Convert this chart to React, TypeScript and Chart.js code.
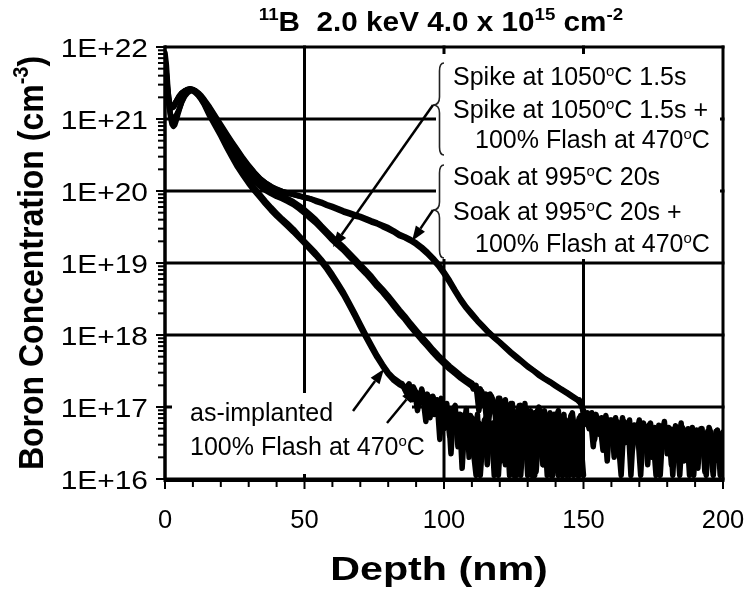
import React, { useEffect, useRef } from 'react';
import { Chart, registerables } from 'chart.js';

Chart.register(...registerables);

// ---------------- data ----------------
const depthSurface = [0, 0.5, 1, 1.5, 2, 2.5, 3, 3.5, 4, 4.5, 5, 6, 7, 8, 9, 10, 11, 12, 13, 14, 16, 18, 20, 22, 24, 26, 28, 30, 32, 34, 36, 38, 40, 42, 44, 46, 48, 50, 52, 54, 56, 58, 60, 62, 64, 66, 68, 70, 72, 74, 76, 78, 80, 82, 84];
const depthMidB = [86, 88, 90, 92, 94, 96, 98, 100, 102, 104, 106, 108, 110];
const depthMidC = [86, 88, 90, 92, 94, 96, 98, 100, 102, 104, 106, 108, 110, 112, 114, 116, 118, 120, 122, 124, 126, 128, 130, 132, 134, 136, 138, 140, 142, 144, 146, 148];

const depthNoiseA1 = [85, 86, 87, 88, 89, 90, 91, 92, 93, 94, 95, 96, 97, 98, 99, 100, 101, 102, 103, 104, 105, 106, 107, 108, 109, 110, 111, 112, 113, 114, 115, 116, 117, 118, 119, 120, 121, 122, 123, 124, 125, 126, 127, 128, 129, 130, 131, 132, 133, 134, 135, 136, 137, 138, 139, 140, 141, 142, 143, 144, 145, 146, 147, 148, 149, 150];
const depthNoiseA2 = [85.5, 86.5, 87.5, 88.5, 89.5, 90.5, 91.5, 92.5, 93.5, 94.5, 95.5, 96.5, 97.5, 98.5, 99.5, 100.5, 101.5, 102.5, 103.5, 104.5, 105.5, 106.5, 107.5, 108.5, 109.5, 110.5, 111.5, 112.5, 113.5, 114.5, 115.5, 116.5, 117.5, 118.5, 119.5, 120.5, 121.5, 122.5, 123.5, 124.5, 125.5, 126.5, 127.5, 128.5, 129.5, 130.5, 131.5, 132.5, 133.5, 134.5, 135.5, 136.5, 137.5, 138.5, 139.5, 140.5, 141.5, 142.5, 143.5, 144.5, 145.5, 146.5, 147.5, 148.5, 149.5];
const depthNoiseB1 = [111, 112, 113, 114, 115, 116, 117, 118, 119, 120, 121, 122, 123, 124, 125, 126, 127, 128, 129, 130, 131, 132, 133, 134, 135, 136, 137, 138, 139, 140, 141, 142, 143, 144, 145, 146, 147, 148, 149, 150];
const depthNoiseB2 = [110.5, 111.5, 112.5, 113.5, 114.5, 115.5, 116.5, 117.5, 118.5, 119.5, 120.5, 121.5, 122.5, 123.5, 124.5, 125.5, 126.5, 127.5, 128.5, 129.5, 130.5, 131.5, 132.5, 133.5, 134.5, 135.5, 136.5, 137.5, 138.5, 139.5, 140.5, 141.5, 142.5, 143.5, 144.5, 145.5, 146.5, 147.5, 148.5, 149.5];
const depthNoiseC1 = [149, 150, 151, 152, 153, 154, 155, 156, 157, 158, 159, 160, 161, 162, 163, 164, 165, 166, 167, 168, 169, 170, 171, 172, 173, 174, 175, 176, 177, 178, 179, 180, 181, 182, 183, 184, 185, 186, 187, 188, 189, 190, 191, 192, 193, 194, 195, 196, 197, 198, 199, 200];
const depthNoiseC2 = [148.5, 149.5, 150.5, 151.5, 152.5, 153.5, 154.5, 155.5, 156.5, 157.5, 158.5, 159.5, 160.5, 161.5, 162.5, 163.5, 164.5, 165.5, 166.5, 167.5, 168.5, 169.5, 170.5, 171.5, 172.5, 173.5, 174.5, 175.5, 176.5, 177.5, 178.5, 179.5, 180.5, 181.5, 182.5, 183.5, 184.5, 185.5, 186.5, 187.5, 188.5, 189.5, 190.5, 191.5, 192.5, 193.5, 194.5, 195.5, 196.5, 197.5, 198.5, 199.5];

// as-implanted
const concA1 = [8.3e21, 5.6e21, 2.8e21, 1.6e21, 1.05e21, 8.5e20, 7.9e20, 8.3e20, 9.5e20, 1.12e21, 1.3e21, 1.75e21, 2.1e21, 2.35e21, 2.5e21, 2.5e21, 2.35e21, 2.15e21, 1.9e21, 1.65e21, 1.2e21, 8.7e20, 6.3e20, 4.5e20, 3.2e20, 2.35e20, 1.8e20, 1.38e20, 1.1e20, 8.9e19, 7.2e19, 5.9e19, 4.9e19, 4.1e19, 3.5e19, 2.95e19, 2.4e19, 2.0e19, 1.66e19, 1.38e19, 1.12e19, 8.9e18, 6.9e18, 5.2e18, 3.9e18, 2.8e18, 2.0e18, 1.41e18, 1.0e18, 7.2e17, 5.2e17, 3.9e17, 3.0e17, 2.5e17, 2.2e17];
const noiseA1 = [2.1e17, 1.78e17, 2.0e17, 1.41e17, 1.9e17, 1.58e17, 1.12e17, 1.78e17, 1.26e17, 1.51e17, 7.1e16, 1.41e17, 1.12e17, 8.9e16, 1.32e17, 5.0e16, 1.12e17, 4.0e16, 8.9e16, 1.05e17, 2.8e16, 7.9e16, 5.0e16, 9.5e16, 2.0e16, 7.1e16, 3.55e16, 7.9e16, 1.12e16, 4.0e16, 7.1e16, 2.5e16, 5.6e16, 1.12e16, 3.2e16, 6.3e16, 4.0e16, 1.58e16, 5.0e16, 2.8e16, 1.12e16, 5.6e16, 3.2e16, 2.0e16, 5.2e16, 1.12e16, 3.55e16, 5.0e16, 1.26e16, 4.0e16, 2.5e16, 5.2e16, 1.12e16, 3.2e16, 4.8e16, 1.78e16, 1.12e16, 4.5e16, 2.8e16, 5.0e16, 1.12e16, 2.5e16, 4.5e16, 1.58e16, 3.55e16, 1.12e16];
// 100% flash at 470 C
const concA2 = [7.0e21, 4.2e21, 2.2e21, 1.45e21, 1.15e21, 1.05e21, 1.02e21, 1.05e21, 1.12e21, 1.22e21, 1.35e21, 1.7e21, 2.05e21, 2.3e21, 2.45e21, 2.45e21, 2.3e21, 2.1e21, 1.85e21, 1.6e21, 1.1e21, 8.0e20, 5.8e20, 4.1e20, 2.95e20, 2.15e20, 1.65e20, 1.27e20, 1.01e20, 8.2e19, 6.6e19, 5.4e19, 4.5e19, 3.8e19, 3.2e19, 2.7e19, 2.25e19, 1.88e19, 1.55e19, 1.28e19, 1.04e19, 8.2e18, 6.3e18, 4.8e18, 3.6e18, 2.6e18, 1.85e18, 1.3e18, 9.3e17, 6.7e17, 4.9e17, 3.7e17, 2.85e17, 2.35e17, 2.05e17];
const noiseA2 = [1.9e17, 1.58e17, 2.1e17, 1.26e17, 1.66e17, 8.9e16, 1.58e17, 1.32e17, 6.3e16, 1.41e17, 1.05e17, 7.9e16, 1.26e17, 3.55e16, 1.12e17, 7.1e16, 9.5e16, 2.24e16, 8.9e16, 5.6e16, 7.9e16, 1.41e16, 6.3e16, 3.55e16, 7.6e16, 2.5e16, 1.12e16, 6.0e16, 3.55e16, 6.6e16, 1.58e16, 4.5e16, 6.0e16, 2.24e16, 1.12e16, 5.0e16, 2.8e16, 5.6e16, 1.12e16, 4.0e16, 2.24e16, 5.0e16, 1.12e16, 4.2e16, 2.5e16, 4.8e16, 1.41e16, 1.12e16, 4.5e16, 3.2e16, 1.58e16, 4.2e16, 2.24e16, 1.12e16, 4.0e16, 2.8e16, 4.5e16, 1.12e16, 2.0e16, 4.0e16, 1.26e16, 3.8e16, 2.24e16, 1.12e16, 3.55e16];
// spike at 1050 C 1.5 s
const concB1 = [7.1e21, 4.2e21, 2.5e21, 1.78e21, 1.5e21, 1.45e21, 1.48e21, 1.58e21, 1.74e21, 1.9e21, 2.05e21, 2.3e21, 2.45e21, 2.57e21, 2.63e21, 2.57e21, 2.45e21, 2.24e21, 2.0e21, 1.78e21, 1.35e21, 1.0e21, 7.4e20, 5.5e20, 4.1e20, 3.1e20, 2.4e20, 1.9e20, 1.55e20, 1.29e20, 1.12e20, 1.0e20, 9.1e19, 8.5e19, 7.8e19, 7.1e19, 6.3e19, 5.5e19, 4.7e19, 4.0e19, 3.3e19, 2.75e19, 2.3e19, 1.95e19, 1.66e19, 1.38e19, 1.15e19, 9.5e18, 7.9e18, 6.5e18, 5.2e18, 4.3e18, 3.5e18, 2.8e18, 2.24e18, 1.82e18, 1.45e18, 1.17e18, 9.5e17, 7.8e17, 6.3e17, 5.2e17, 4.4e17, 3.7e17, 3.2e17, 2.75e17, 2.4e17, 2.15e17];
const noiseB1 = [1.9e17, 1.58e17, 1.78e17, 1.12e17, 1.51e17, 6.3e16, 1.41e17, 1.12e17, 4.0e16, 1.32e17, 8.9e16, 1.26e17, 2.5e16, 1.12e17, 7.1e16, 1.12e16, 1.05e17, 5.0e16, 1.12e17, 3.2e16, 8.9e16, 1.12e16, 7.9e16, 1.0e17, 4.0e16, 8.9e16, 2.0e16, 8.3e16, 1.12e16, 7.1e16, 8.9e16, 2.8e16, 7.9e16, 1.12e16, 6.3e16, 8.3e16, 4.0e16, 1.12e16, 7.6e16, 5.6e16];
// spike + flash
const concB2 = [6.0e21, 3.6e21, 2.2e21, 1.65e21, 1.45e21, 1.42e21, 1.46e21, 1.55e21, 1.7e21, 1.85e21, 2.0e21, 2.25e21, 2.42e21, 2.55e21, 2.6e21, 2.55e21, 2.42e21, 2.2e21, 1.97e21, 1.75e21, 1.25e21, 9.0e20, 6.6e20, 4.85e20, 3.6e20, 2.75e20, 2.12e20, 1.68e20, 1.38e20, 1.16e20, 1.02e20, 9.2e19, 8.4e19, 7.8e19, 7.15e19, 6.5e19, 5.7e19, 4.95e19, 4.2e19, 3.6e19, 3.0e19, 2.5e19, 2.07e19, 1.75e19, 1.5e19, 1.24e19, 1.03e19, 8.5e18, 7.1e18, 5.8e18, 4.7e18, 3.9e18, 3.15e18, 2.5e18, 2.0e18, 1.64e18, 1.3e18, 1.05e18, 8.5e17, 7.0e17, 5.7e17, 4.7e17, 3.95e17, 3.35e17, 2.9e17, 2.5e17, 2.2e17, 1.95e17];
const noiseB2 = [1.78e17, 2.0e17, 8.9e16, 1.66e17, 1.32e17, 5.0e16, 1.51e17, 1.2e17, 7.9e16, 1.32e17, 1.78e16, 1.2e17, 9.5e16, 5.6e16, 1.12e17, 1.12e16, 8.9e16, 1.05e17, 3.55e16, 9.5e16, 6.3e16, 1.12e16, 8.3e16, 4.5e16, 8.9e16, 1.58e16, 7.6e16, 5.2e16, 1.12e16, 7.9e16, 3.2e16, 7.1e16, 1.12e16, 6.6e16, 4.2e16, 7.6e16, 1.12e16, 5.0e16, 7.1e16, 2.5e16];
// soak at 995 C 20 s
const concC1 = [6.3e21, 3.55e21, 2.24e21, 1.66e21, 1.5e21, 1.48e21, 1.5e21, 1.62e21, 1.74e21, 1.86e21, 2.0e21, 2.24e21, 2.4e21, 2.5e21, 2.57e21, 2.5e21, 2.4e21, 2.24e21, 2.04e21, 1.82e21, 1.41e21, 1.05e21, 7.9e20, 6.0e20, 4.6e20, 3.55e20, 2.75e20, 2.2e20, 1.78e20, 1.48e20, 1.29e20, 1.15e20, 1.05e20, 9.8e19, 9.3e19, 8.9e19, 8.5e19, 8.1e19, 7.8e19, 7.2e19, 6.8e19, 6.3e19, 5.9e19, 5.5e19, 5.1e19, 4.8e19, 4.5e19, 4.3e19, 4.0e19, 3.7e19, 3.5e19, 3.2e19, 2.95e19, 2.7e19, 2.4e19, 2.24e19, 2.04e19, 1.82e19, 1.58e19, 1.35e19, 1.12e19, 9.1e18, 7.1e18, 5.4e18, 4.0e18, 3.0e18, 2.35e18, 1.9e18, 1.55e18, 1.29e18, 1.07e18, 9.1e17, 7.8e17, 6.6e17, 5.6e17, 4.8e17, 4.2e17, 3.6e17, 3.2e17, 2.75e17, 2.45e17, 2.2e17, 1.95e17, 1.74e17, 1.55e17, 1.38e17, 1.23e17];
const noiseC1 = [1.12e17, 8.9e16, 7.6e16, 5.0e16, 8.3e16, 3.55e16, 7.1e16, 5.6e16, 2.5e16, 7.6e16, 4.5e16, 6.6e16, 2.0e16, 6.3e16, 4.0e16, 7.1e16, 3.2e16, 6.0e16, 1.12e16, 5.6e16, 4.2e16, 6.6e16, 2.8e16, 5.2e16, 1.58e16, 6.0e16, 3.55e16, 1.12e16, 5.6e16, 4.0e16, 6.3e16, 2.24e16, 5.0e16, 1.12e16, 5.5e16, 3.2e16, 6.0e16, 1.78e16, 4.8e16, 1.12e16, 5.2e16, 3.55e16, 1.41e16, 5.0e16, 2.8e16, 1.12e16, 5.2e16, 4.0e16, 1.78e16, 4.8e16, 1.12e16, 4.5e16];
// soak + flash
const concC2 = [5.5e21, 3.2e21, 2.0e21, 1.6e21, 1.48e21, 1.47e21, 1.52e21, 1.63e21, 1.76e21, 1.9e21, 2.05e21, 2.3e21, 2.45e21, 2.55e21, 2.6e21, 2.55e21, 2.45e21, 2.3e21, 2.1e21, 1.88e21, 1.46e21, 1.1e21, 8.3e20, 6.3e20, 4.8e20, 3.7e20, 2.85e20, 2.25e20, 1.82e20, 1.5e20, 1.3e20, 1.16e20, 1.06e20, 9.9e19, 9.4e19, 9.0e19, 8.6e19, 8.2e19, 7.85e19, 7.4e19, 7.0e19, 6.5e19, 6.1e19, 5.7e19, 5.3e19, 5.0e19, 4.7e19, 4.45e19, 4.15e19, 3.85e19, 3.6e19, 3.35e19, 3.1e19, 2.8e19, 2.5e19, 2.32e19, 2.12e19, 1.9e19, 1.66e19, 1.42e19, 1.18e19, 9.6e18, 7.5e18, 5.7e18, 4.2e18, 3.15e18, 2.45e18, 1.98e18, 1.6e18, 1.33e18, 1.1e18, 9.3e17, 8.0e17, 6.8e17, 5.8e17, 5.0e17, 4.3e17, 3.7e17, 3.25e17, 2.85e17, 2.5e17, 2.25e17, 2.0e17, 1.78e17, 1.6e17, 1.42e17, 1.26e17];
const noiseC2 = [1.26e17, 1.0e17, 6.0e16, 8.3e16, 7.1e16, 2.8e16, 7.9e16, 4.2e16, 7.1e16, 6.0e16, 1.78e16, 6.6e16, 5.0e16, 7.1e16, 3.2e16, 1.12e16, 6.3e16, 4.8e16, 6.6e16, 2.5e16, 5.6e16, 4.0e16, 1.12e16, 6.0e16, 3.55e16, 5.6e16, 2.0e16, 5.2e16, 4.2e16, 1.12e16, 5.5e16, 3.2e16, 5.2e16, 1.58e16, 5.0e16, 3.8e16, 1.12e16, 5.2e16, 2.8e16, 5.0e16, 2.0e16, 1.12e16, 4.8e16, 3.55e16, 5.0e16, 1.26e16, 4.6e16, 2.5e16, 1.12e16, 4.6e16, 3.2e16, 4.2e16];

// axes
const xTickValues = [0, 50, 100, 150, 200];
const xMinorTickValues = [0, 10, 20, 30, 40, 50, 60, 70, 80, 90, 100, 110, 120, 130, 140, 150, 160, 170, 180, 190, 200];
const yDecadeValues = [1e16, 1e17, 1e18, 1e19, 1e20, 1e21, 1e22];
const yTickLabels = ['1E+16', '1E+17', '1E+18', '1E+19', '1E+20', '1E+21', '1E+22'];
const yMinorMantissas = [2, 3, 4, 5, 6, 7, 8, 9];

// ---------------- helpers ----------------
const FONT = '"Liberation Sans", Arial, Helvetica, sans-serif';
type Part = { t: string; sup?: boolean };

function toPoints(depths: number[], values: number[]) {
  const n = Math.min(depths.length, values.length);
  const out: { x: number; y: number }[] = [];
  for (let i = 0; i < n; i++) out.push({ x: depths[i], y: values[i] });
  return out;
}

function drawRich(
  ctx: CanvasRenderingContext2D,
  parts: Part[],
  x: number,
  y: number,
  align: 'left' | 'center' | 'right',
  size: number,
  bold: boolean,
  supSize: number,
  rise: number,
  sx = 1,
  sy = 1
) {
  const f = (s: number) => `${bold ? 'bold ' : ''}${s}px ${FONT}`;
  let total = 0;
  const widths = parts.map((p) => {
    ctx.font = f(p.sup ? supSize : size);
    const w = ctx.measureText(p.t).width;
    total += w;
    return w;
  });
  const vis = total * sx;
  const start = align === 'center' ? x - vis / 2 : align === 'right' ? x - vis : x;
  ctx.save();
  ctx.translate(start, y);
  ctx.scale(sx, sy);
  ctx.textAlign = 'left';
  ctx.textBaseline = 'alphabetic';
  let cx = 0;
  parts.forEach((p, i) => {
    ctx.font = f(p.sup ? supSize : size);
    ctx.fillText(p.t, cx, p.sup ? -rise : 0);
    cx += widths[i];
  });
  ctx.restore();
}

function drawBrace(ctx: CanvasRenderingContext2D, xr: number, xt: number, yt: number, ym: number, yb: number) {
  const xm = (xr + xt) / 2 + 1;
  const r = 8;
  ctx.beginPath();
  ctx.moveTo(xr, yt);
  ctx.quadraticCurveTo(xm, yt, xm, yt + r);
  ctx.lineTo(xm, ym - r);
  ctx.quadraticCurveTo(xm, ym, xt, ym);
  ctx.quadraticCurveTo(xm, ym, xm, ym + r);
  ctx.lineTo(xm, yb - r);
  ctx.quadraticCurveTo(xm, yb, xr, yb);
  ctx.stroke();
}

function drawArrow(ctx: CanvasRenderingContext2D, x1: number, y1: number, x2: number, y2: number) {
  const ang = Math.atan2(y2 - y1, x2 - x1);
  const len = 15;
  const w = 5.5;
  const bx = x2 - len * Math.cos(ang);
  const by = y2 - len * Math.sin(ang);
  ctx.beginPath();
  ctx.moveTo(x1, y1);
  ctx.lineTo(bx, by);
  ctx.stroke();
  ctx.beginPath();
  ctx.moveTo(x2, y2);
  ctx.lineTo(bx + w * Math.sin(ang), by - w * Math.cos(ang));
  ctx.lineTo(bx - w * Math.sin(ang), by + w * Math.cos(ang));
  ctx.closePath();
  ctx.fill();
}

const framePlugin = {
  id: 'frame',
  beforeDraw(chart: any) {
    const ctx = chart.ctx as CanvasRenderingContext2D;
    ctx.save();
    ctx.fillStyle = '#fff';
    ctx.fillRect(0, 0, chart.width, chart.height);
    ctx.restore();
  },
  beforeDatasetsDraw(chart: any) {
    const ctx = chart.ctx as CanvasRenderingContext2D;
    const xs = chart.scales.x;
    const ys = chart.scales.y;
    const { left, right, top, bottom } = chart.chartArea;
    ctx.save();
    ctx.strokeStyle = '#000';
    ctx.lineWidth = 3;
    yDecadeValues.forEach((v) => {
      const y = ys.getPixelForValue(v);
      ctx.beginPath();
      ctx.moveTo(left, y);
      ctx.lineTo(right + 1.5, y);
      ctx.stroke();
    });
    xTickValues.forEach((v) => {
      const x = xs.getPixelForValue(v);
      ctx.beginPath();
      ctx.moveTo(x, top - 1.5);
      ctx.lineTo(x, bottom);
      ctx.stroke();
    });
    // white annotation panels
    ctx.fillStyle = '#fff';
    ctx.fillRect(436, 54, 284, 205);
    ctx.fillRect(172, 393, 240, 81);
    ctx.restore();
  },
  afterDatasetsDraw(chart: any) {
    const ctx = chart.ctx as CanvasRenderingContext2D;
    const xs = chart.scales.x;
    const ys = chart.scales.y;
    const { left, right, top, bottom } = chart.chartArea;
    ctx.save();
    ctx.strokeStyle = '#000';
    ctx.fillStyle = '#000';
    // axes lines
    ctx.lineWidth = 3;
    ctx.beginPath();
    ctx.moveTo(left, top - 1.5);
    ctx.lineTo(left, bottom + 1.5);
    ctx.lineTo(right + 1.5, bottom + 1.5);
    ctx.stroke();
    // y ticks
    ctx.lineWidth = 2;
    yDecadeValues.forEach((v, i) => {
      const y = ys.getPixelForValue(v);
      ctx.beginPath();
      ctx.moveTo(left - 9, y);
      ctx.lineTo(left + 3, y);
      ctx.stroke();
      if (i < yDecadeValues.length - 1) {
        yMinorMantissas.forEach((m) => {
          const yy = ys.getPixelForValue(v * m);
          ctx.beginPath();
          ctx.moveTo(left - 7, yy);
          ctx.lineTo(left, yy);
          ctx.stroke();
        });
      }
    });
    xMinorTickValues.forEach((v) => {
      const x = xs.getPixelForValue(v);
      const major = xTickValues.indexOf(v) >= 0;
      ctx.beginPath();
      ctx.moveTo(x, bottom);
      ctx.lineTo(x, bottom + (major ? 10 : 8));
      ctx.stroke();
    });
    // tick labels
    yDecadeValues.forEach((v, i) => {
      drawRich(ctx, [{ t: yTickLabels[i] }], left - 17, ys.getPixelForValue(v) + 10, 'right', 26, false, 15, 9, 1.15, 1);
    });
    xTickValues.forEach((v) => {
      drawRich(ctx, [{ t: String(v) }], xs.getPixelForValue(v), 528, 'center', 25, false, 15, 9, 1.02, 1);
    });
    // axis titles
    drawRich(ctx, [{ t: 'Depth (nm)' }], (left + right) / 2 - 5, 580, 'center', 33, true, 20, 12, 1.25, 1);
    ctx.save();
    ctx.translate(43, (top + bottom) / 2);
    ctx.rotate(-Math.PI / 2);
    drawRich(ctx, [{ t: 'Boron Concentration (cm' }, { t: '-3', sup: true }, { t: ')' }], 0, 0, 'center', 32, true, 20, 13, 1, 1.12);
    ctx.restore();
    // chart title
    drawRich(
      ctx,
      [{ t: '11', sup: true }, { t: 'B  2.0 keV 4.0 x 10' }, { t: '15', sup: true }, { t: ' cm' }, { t: '-2', sup: true }],
      (left + right) / 2 - 3,
      31,
      'center',
      27,
      true,
      17,
      11,
      1.1,
      1
    );
    // annotations
    const deg = (a: string, b: string): Part[] => [{ t: a }, { t: 'o', sup: true }, { t: b }];
    drawRich(ctx, deg('Spike at 1050', 'C 1.5s'), 453, 85, 'left', 25, false, 15, 9);
    drawRich(ctx, deg('Spike at 1050', 'C 1.5s +'), 453, 118, 'left', 25, false, 15, 9);
    drawRich(ctx, deg('100% Flash at 470', 'C'), 475, 148, 'left', 25, false, 15, 9);
    drawRich(ctx, deg('Soak at 995', 'C 20s'), 453, 185, 'left', 25, false, 15, 9);
    drawRich(ctx, deg('Soak at 995', 'C 20s +'), 453, 220, 'left', 25, false, 15, 9);
    drawRich(ctx, deg('100% Flash at 470', 'C'), 475, 252, 'left', 25, false, 15, 9);
    drawRich(ctx, [{ t: 'as-implanted' }], 190, 421, 'left', 25, false, 15, 9);
    drawRich(ctx, deg('100% Flash at 470', 'C'), 190, 455, 'left', 25, false, 15, 9);
    // braces
    ctx.strokeStyle = '#222';
    ctx.lineWidth = 1.6;
    drawBrace(ctx, 444, 433, 63, 105, 155);
    drawBrace(ctx, 444, 433, 165, 210, 258);
    // arrows
    ctx.strokeStyle = '#000';
    ctx.lineWidth = 2.5;
    drawArrow(ctx, 433, 105, 333, 247);
    drawArrow(ctx, 433, 210, 412, 241);
    drawArrow(ctx, 353, 411, 384, 369);
    drawArrow(ctx, 387, 423, 416, 388);
    ctx.restore();
  },
};

export default function App() {
  const ref = useRef<HTMLCanvasElement>(null);
  useEffect(() => {
    if (!ref.current) return;
    const mk = (d: number[], v: number[]) => ({
      data: toPoints(d, v),
      borderColor: '#000',
      backgroundColor: '#000',
      borderWidth: 5.5,
      pointRadius: 0,
      tension: 0,
      fill: false,
      borderJoinStyle: 'round' as const,
      borderCapStyle: 'round' as const,
    });
    const chart = new Chart(ref.current, {
      type: 'line',
      data: {
        datasets: [
          mk(depthSurface.concat(depthNoiseA1), concA1.concat(noiseA1)),
          mk(depthSurface.concat(depthNoiseA2), concA2.concat(noiseA2)),
          mk(depthSurface.concat(depthMidB, depthNoiseB1), concB1.concat(noiseB1)),
          mk(depthSurface.concat(depthMidB, depthNoiseB2), concB2.concat(noiseB2)),
          mk(depthSurface.concat(depthMidC, depthNoiseC1), concC1.concat(noiseC1)),
          mk(depthSurface.concat(depthMidC, depthNoiseC2), concC2.concat(noiseC2)),
        ],
      },
      options: {
        animation: false,
        responsive: false,
        maintainAspectRatio: false,
        parsing: false as any,
        layout: { padding: { left: 165, right: 26, top: 47, bottom: 111 } },
        scales: {
          x: { type: 'linear', min: 0, max: 200, display: false },
          y: { type: 'logarithmic', min: 1e16, max: 1e22, display: false },
        },
        plugins: { legend: { display: false }, tooltip: { enabled: false }, title: { display: false } },
      },
      plugins: [framePlugin],
    });
    return () => chart.destroy();
  }, []);
  return (
    <div style={{ position: 'fixed', left: 0, top: 0, width: 749, height: 590, background: '#fff' }}>
      <canvas ref={ref} width={749} height={590} style={{ display: 'block' }} />
    </div>
  );
}
